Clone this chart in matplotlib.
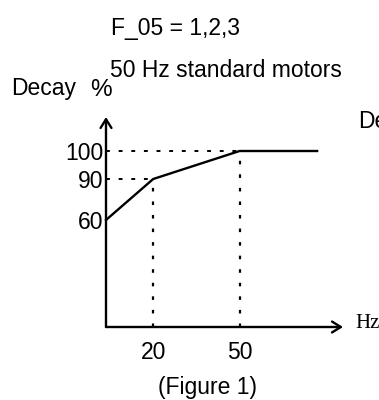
import numpy as np
import matplotlib
matplotlib.use("Agg")
import matplotlib.pyplot as plt

plt.rcParams['font.family'] = ['Liberation Sans', 'DejaVu Sans']

# decay curve for F_05 = 1,2,3 (50 Hz standard motors)
freq = [0, 20, 50, 80]
decay = [60, 90, 100, 100]
freq_ticks = [20, 50]
freq_labels = ['20', '50']
decay_ticks = [60, 90, 100]
decay_labels = ['60', '90', '100']

# the sketch is not to scale, so each axis gets a piecewise-linear scale
x_knots = [0, 20, 50, 90]
x_px = [0, 47, 133, 236]
y_knots = [0, 60, 90, 100, 112]
y_px = [0, 107, 148, 176, 210]

W, H = 379, 400
fig = plt.figure(figsize=(W / 100, H / 100), dpi=100)
ax = fig.add_axes([106 / W, 73 / H, 237 / W, 210 / H])

ax.set_xscale('function', functions=(lambda v: np.interp(v, x_knots, x_px),
                                     lambda p: np.interp(p, x_px, x_knots)))
ax.set_yscale('function', functions=(lambda v: np.interp(v, y_knots, y_px),
                                     lambda p: np.interp(p, y_px, y_knots)))
ax.set_xlim(0, 90)
ax.set_ylim(0, 112)

ax.plot(freq, decay, color='black', lw=1.7, clip_on=False, zorder=3)

# dotted guides from the break points to both axes
for f, d in zip(freq, decay):
    if f in freq_ticks:
        ax.plot([0, f], [d, d], color='black', lw=1.4, ls=(0, (2, 4.5)), clip_on=False)
        ax.plot([f, f], [0, d], color='black', lw=1.6, ls=(0, (1.6, 4.5)), clip_on=False)

for s in ax.spines.values():
    s.set_visible(False)

arrow = dict(arrowstyle='->,head_length=0.45,head_width=0.28', lw=1.7,
             color='black', shrinkA=0, shrinkB=0, mutation_scale=14)
ax.annotate('', xy=(1, 0), xytext=(0, 0), xycoords='axes fraction', arrowprops=arrow)
ax.annotate('', xy=(0, 1), xytext=(0, 0), xycoords='axes fraction', arrowprops=arrow)

ax.set_xticks(freq_ticks, freq_labels)
ax.set_yticks(decay_ticks, decay_labels)
ax.tick_params(axis='x', length=0, labelsize=16.5, pad=10)
ax.tick_params(axis='y', length=0, labelsize=16.5, pad=2)
ax.minorticks_off()


def px_text(x, y, s, **kw):
    fig.text(x / W, 1 - y / H, s, va='baseline', **kw)


px_text(111, 35, 'F_05 = 1,2,3', fontsize=16.5)
px_text(110, 77, '50 Hz standard motors', fontsize=16.5)
px_text(11, 95, 'Decay', fontsize=16.5)
px_text(90, 96, '%', fontsize=17.5)
px_text(358, 128, 'Decay', fontsize=16.5)
px_text(355, 328, 'Hz', fontsize=15, family='Liberation Serif')
px_text(208, 394, '(Figure 1)', fontsize=16.5, ha='center')

fig.savefig('out.png', dpi=100)
